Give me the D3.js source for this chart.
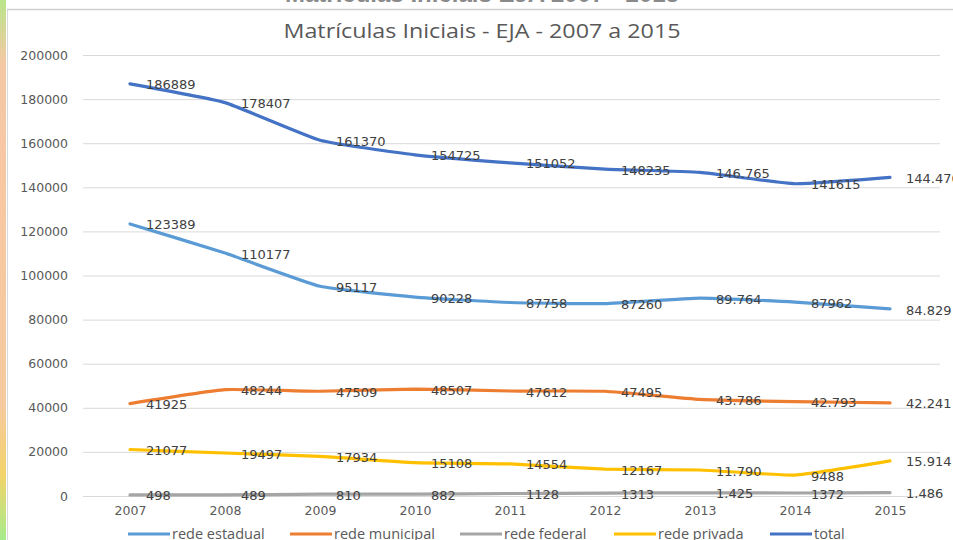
<!DOCTYPE html>
<html>
<head>
<meta charset="utf-8">
<script src="https://cdn.jsdelivr.net/npm/d3@7"></script>
<style>
  body { margin: 0; background: #fff; }
  svg { display: block; }
</style>
</head>
<body>
<div id="chart"></div>
<script>
// data
const years = ['2007', '2008', '2009', '2010', '2011', '2012', '2013', '2014', '2015'];
const seriesNames = ['rede estadual', 'rede municipal', 'rede federal', 'rede privada', 'total'];
const estadual = [123389, 110177, 95117, 90228, 87758, 87260, 89764, 87962, 84829];
const municipal = [41925, 48244, 47509, 48507, 47612, 47495, 43786, 42793, 42241];
const federal = [498, 489, 810, 882, 1128, 1313, 1425, 1372, 1486];
const privada = [21077, 19497, 17934, 15108, 14554, 12167, 11790, 9488, 15914];
const total = [186889, 178407, 161370, 154725, 151052, 148235, 146765, 141615, 144470];
// labels as printed in the picture (some use a thousands dot)
const estadualLabels = ['123389', '110177', '95117', '90228', '87758', '87260', '89.764', '87962', '84.829'];
const municipalLabels = ['41925', '48244', '47509', '48507', '47612', '47495', '43.786', '42.793', '42.241'];
const federalLabels = ['498', '489', '810', '882', '1128', '1313', '1.425', '1372', '1.486'];
const privadaLabels = ['21077', '19497', '17934', '15108', '14554', '12167', '11.790', '9488', '15.914'];
const totalLabels = ['186889', '178407', '161370', '154725', '151052', '148235', '146.765', '141615', '144.470'];
const yTicks = [0, 20000, 40000, 60000, 80000, 100000, 120000, 140000, 160000, 180000, 200000];
const colors = ['#5b9bd5', '#ed7d31', '#a5a5a5', '#ffc000', '#4472c4'];

const series = [
    { name: seriesNames[0], values: estadual, labels: estadualLabels, color: colors[0] },
    { name: seriesNames[1], values: municipal, labels: municipalLabels, color: colors[1] },
    { name: seriesNames[2], values: federal, labels: federalLabels, color: colors[2] },
    { name: seriesNames[3], values: privada, labels: privadaLabels, color: colors[3] },
    { name: seriesNames[4], values: total, labels: totalLabels, color: colors[4] }
];

const width = 953;
const height = 540;

const svg = d3.select('#chart')
    .append('svg')
    .attr('width', width)
    .attr('height', height);

// left strip of the screenshot
const grad = svg.append('defs').append('linearGradient')
    .attr('id', 'strip')
    .attr('x1', 0).attr('y1', 0).attr('x2', 0).attr('y2', 1);
grad.append('stop').attr('offset', '0%').attr('stop-color', '#b9e58a');
grad.append('stop').attr('offset', '12%').attr('stop-color', '#f6c7a4');
grad.append('stop').attr('offset', '75%').attr('stop-color', '#f7c99e');
grad.append('stop').attr('offset', '88%').attr('stop-color', '#f2d36a');
grad.append('stop').attr('offset', '100%').attr('stop-color', '#a6ec8c');
svg.append('rect')
    .attr('x', 0).attr('y', 0).attr('width', 6).attr('height', height)
    .attr('fill', 'url(#strip)');
svg.append('line')
    .attr('x1', 7.5).attr('x2', 7.5).attr('y1', 9).attr('y2', height)
    .style('stroke', '#d9d9d9');
svg.append('line')
    .attr('x1', 7).attr('x2', width).attr('y1', 9.5).attr('y2', 9.5)
    .style('stroke', '#d0d0d0')
    .style('stroke-width', 1.5);

// clipped heading of the slide above the chart (only its lower edge shows)
svg.append('text')
    .attr('x', 482)
    .attr('y', 2)
    .attr('text-anchor', 'middle')
    .style('font-family', 'Liberation Sans, sans-serif')
    .style('font-size', '24px')
    .style('font-weight', 'bold')
    .style('fill', '#8a8a8a')
    .text('Matrículas Iniciais EJA 2007 - 2015');

// title
svg.append('text')
    .attr('x', 482)
    .attr('y', 38)
    .attr('text-anchor', 'middle')
    .attr('textLength', 397)
    .attr('lengthAdjust', 'spacingAndGlyphs')
    .style('font-family', 'Open Sans, sans-serif')
    .style('font-size', '20px')
    .style('fill', '#595959')
    .text('Matrículas Iniciais - EJA - 2007 a 2015');

const x = d3.scalePoint().domain(years).range([130, 890]);
const y = d3.scaleLinear().domain([0, 200000]).range([496, 55]);

// gridlines
svg.append('g')
    .selectAll('line')
    .data(yTicks)
    .enter().append('line')
    .attr('x1', 83)
    .attr('x2', 940)
    .attr('y1', d => y(d) + 0.5)
    .attr('y2', d => y(d) + 0.5)
    .style('stroke', '#d9d9d9')
    .style('stroke-width', 1);

// y axis labels
const yAxis = svg.append('g')
    .attr('transform', 'translate(75,0)')
    .call(d3.axisLeft(y).tickValues(yTicks).tickSize(0).tickPadding(7).tickFormat(d3.format('d')));
yAxis.select('.domain').remove();
yAxis.selectAll('text')
    .style('font-family', 'DejaVu Sans, sans-serif')
    .style('font-size', '12.5px')
    .style('fill', '#595959');

// x axis labels
const xAxis = svg.append('g')
    .attr('transform', 'translate(0,502)')
    .call(d3.axisBottom(x).tickSize(0).tickPadding(4));
xAxis.select('.domain').remove();
xAxis.selectAll('text')
    .style('font-family', 'DejaVu Sans, sans-serif')
    .style('font-size', '12.5px')
    .style('fill', '#595959');

const line = d3.line()
    .x((d, i) => x(years[i]))
    .y(d => y(d))
    .curve(d3.curveCardinal.tension(0.6));

svg.append('g')
    .selectAll('path')
    .data(series)
    .enter().append('path')
    .attr('d', d => line(d.values))
    .style('fill', 'none')
    .style('stroke', d => d.color)
    .style('stroke-width', 3.2)
    .style('stroke-linecap', 'round');

// data labels, placed right of each point
const labelGroup = svg.append('g');
series.forEach(s => {
    labelGroup.selectAll(null)
        .data(s.values)
        .enter().append('text')
        .attr('x', (d, i) => x(years[i]) + 16)
        .attr('y', d => y(d) + 1)
        .attr('dy', '0.35em')
        .style('font-family', 'DejaVu Sans, sans-serif')
        .style('font-size', '13px')
        .style('fill', '#404040')
        .text((d, i) => s.labels[i]);
});

// legend
const legendX = [128, 290, 460, 614, 770];
const legend = svg.append('g')
    .selectAll('g')
    .data(series)
    .enter().append('g')
    .attr('transform', (d, i) => `translate(${legendX[i]},534)`);
legend.append('line')
    .attr('x1', 0).attr('x2', 42)
    .style('stroke', d => d.color)
    .style('stroke-width', 3.2);
legend.append('text')
    .attr('x', 44)
    .attr('dy', '0.35em')
    .style('font-family', 'Open Sans, sans-serif')
    .style('font-size', '14.5px')
    .style('fill', '#595959')
    .text(d => d.name);
</script>
</body>
</html>
